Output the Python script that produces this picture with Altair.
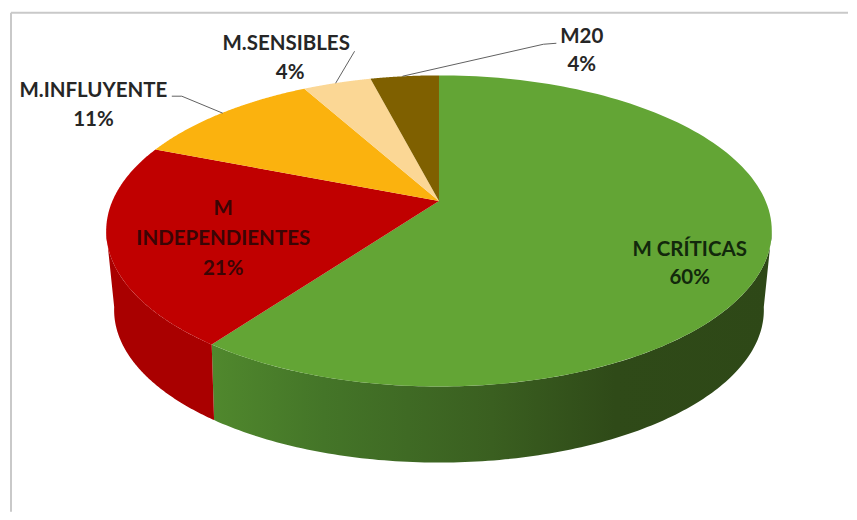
import numpy as np
import pandas as pd
import altair as alt

# ---- values
names = ["M CRÍTICAS", "M INDEPENDIENTES", "M.INFLUYENTE", "M.SENSIBLES", "M20"]
shares = [60, 21, 11, 4, 4]
top_colors = ["#63a535", "#c00000", "#fbb20e", "#fbd795", "#7f6000"]

# ---- geometry of the tilted disc (in picture pixels measured from the pie's apex)
RX, RY, K = 327.0, 150.0, 0.192
BASE_RX, BASE_RY, BASE_K, DEPTH = 318.0, 146.0, 0.21, 77.0
X_DOMAIN = [-431.5, 409.5]
Y_DOMAIN = [-193.0, 311.0]
FRAME_LEFT, FRAME_TOP = -428.5, -188.5
WALL_START, WALL_END = 101, 259  # angles where the disc's rim turns away from the viewer


def rim(theta_deg, rx=RX, ry=RY, k=K, dy=0.0):
    t = np.radians(theta_deg)
    u, v = np.sin(t), -np.cos(t)
    w = 1 - k * v
    return rx * u / w, ry * v / w + dy


def base(theta_deg):
    return rim(theta_deg, BASE_RX, BASE_RY, BASE_K, DEPTH)


edges = np.concatenate([[0], np.cumsum(shares)]) * 3.6


def slice_frame(a0, a1):
    th = np.linspace(a0, a1, 140)
    x, y = rim(th)
    return pd.DataFrame({
        "x": np.concatenate([[0.0], x]),
        "y": np.concatenate([[0.0], y]),
        "o": np.arange(len(th) + 1),
    })


def wall_frame(a0, a1):
    th = np.linspace(a0, a1, 140)
    xt, yt = rim(th)
    xb, yb = base(th[::-1])
    return pd.DataFrame({
        "x": np.concatenate([xt, xb]),
        "y": np.concatenate([yt, yb]),
        "o": np.arange(2 * len(th)),
    })


X = alt.X("x:Q", scale=alt.Scale(domain=X_DOMAIN), axis=None)
Y = alt.Y("y:Q", scale=alt.Scale(domain=Y_DOMAIN[::-1]), axis=None)


def poly(df, fill):
    return alt.Chart(df).mark_line(
        fill=fill, filled=True, stroke=None, strokeWidth=0, interpolate="linear", clip=False
    ).encode(x=X, y=Y, order="o:Q")


green_wall = alt.Gradient(
    gradient="linear", x1=0, x2=1, y1=0, y2=0,
    stops=[
        alt.GradientStop(color="#50882d", offset=0),
        alt.GradientStop(color="#447528", offset=0.2),
        alt.GradientStop(color="#3a5f20", offset=0.5),
        alt.GradientStop(color="#2f4a18", offset=0.72),
        alt.GradientStop(color="#2e4817", offset=1),
    ],
)
layers = []

# ---- chart frame (only its top and left edges fall inside the picture)
frame_v = pd.DataFrame({"x": [FRAME_LEFT], "y": [FRAME_TOP], "y2": [Y_DOMAIN[1]]})
frame_h = pd.DataFrame({"x": [FRAME_LEFT], "x2": [X_DOMAIN[1]], "y": [FRAME_TOP]})
layers.append(alt.Chart(frame_v).mark_rule(color="#c9c9c9", strokeWidth=2).encode(x=X, y=Y, y2="y2:Q"))
layers.append(alt.Chart(frame_h).mark_rule(color="#c9c9c9", strokeWidth=2).encode(x=X, x2="x2:Q", y=Y))

layers += [
    poly(wall_frame(WALL_START, edges[1]), green_wall),
    poly(wall_frame(edges[1], WALL_END), "#a90000"),
]
for i, c in enumerate(top_colors):
    layers.append(poly(slice_frame(edges[i], edges[i + 1]), c))

# ---- leader lines
leader_x = [[-267.5, -257.5, -216.5], [-84.5, -103.5], [117.5, 104.5, -36.5]]
leader_y = [[-105, -105, -88], [-150, -118], [-158, -157, -125]]
for lx, ly in zip(leader_x, leader_y):
    d = pd.DataFrame({"x": lx, "y": ly, "o": range(len(lx))})
    layers.append(alt.Chart(d).mark_line(color="#606060", strokeWidth=1).encode(x=X, y=Y, order="o:Q"))

# ---- labels
label_lines = ["M CRÍTICAS", "60%", "M", "INDEPENDIENTES", "21%", "M.INFLUYENTE", "11%", "M.SENSIBLES", "4%", "M20", "4%"]
label_x = [251, 251, -216, -216, -216, -346, -346, -153, -149, 143, 143]
label_y = [49, 77, 8, 38, 68, -110, -81, -157, -128, -164, -136]
label_colors = ["#12280c", "#12280c", "#3a0505", "#3a0505", "#3a0505"] + ["#262626"] * 6
labels = pd.DataFrame({"x": label_x, "y": label_y, "t": label_lines, "c": label_colors})
layers.append(
    alt.Chart(labels).mark_text(font="Lato", fontWeight="bold", fontSize=20.5, align="center", baseline="middle").encode(
        x=X, y=Y, text="t:N", color=alt.Color("c:N", scale=None)
    )
)

chart = (
    alt.layer(*layers)
    .properties(width=841, height=504, padding=0, background="white")
    .configure_view(stroke=None)
)
chart.save("out.html", embed_options={"renderer": "svg", "actions": False})
